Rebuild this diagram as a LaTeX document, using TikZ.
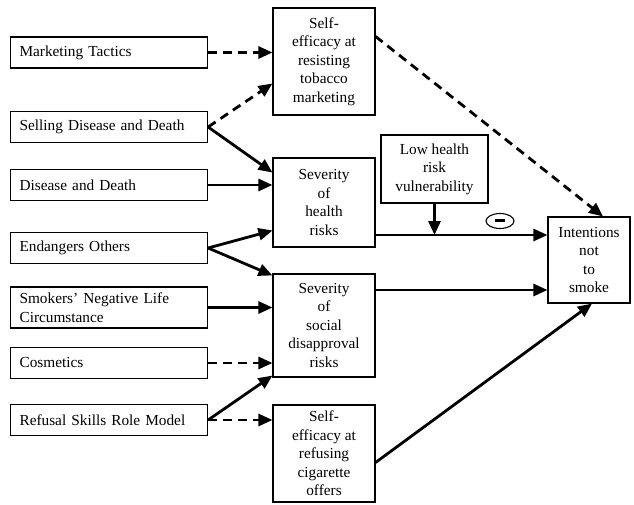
\documentclass[tikz,border=0pt]{standalone}
\usepackage{fontspec}
\setmainfont{Liberation Serif}
\usetikzlibrary{calc,arrows.meta,shapes.geometric}

\tikzset{
  box/.style={draw, line width=1.1pt, rectangle, inner sep=0pt},
  leftbox/.style={box, anchor=west, minimum width=197pt, minimum height=31pt,
    text width=179pt, align=left},
  midbox/.style={box, minimum width=102pt, align=center},
  link/.style={line width=2.8pt, -{Triangle[length=14pt,width=12pt]}},
  dlink/.style={link, dash pattern=on 9pt off 6pt},
}

\begin{document}
\begin{tikzpicture}[x=1pt, y=-1pt, font=\fontsize{15.3}{18.5}\selectfont]
  \path[use as bounding box, fill=white] (0,0) rectangle (634,504);

  \node[leftbox] (mkt) at (10,52.5) {Marketing Tactics};
  \node[leftbox] (sdd) at (10,127) {Selling Disease and Death};
  \node[leftbox] (dd) at (10,185) {Disease and Death};
  \node[leftbox] (eo) at (10,248) {Endangers Others};
  \node[leftbox, minimum height=41pt] (snl) at (10,307.5) {Smokers' Negative Life\\Circumstance};
  \node[leftbox] (cos) at (10,363) {Cosmetics};
  \node[leftbox] (rsr) at (10,420) {Refusal Skills Role Model};

  \node[midbox, minimum height=107pt] (ser) at (324,61.5) {Self-\\efficacy at\\resisting\\tobacco\\marketing};
  \node[midbox, minimum height=89pt] (sh) at (324,202.5) {Severity\\of\\health\\risks};
  \node[midbox, minimum height=103pt] (ss) at (324,325.5) {Severity\\of\\social\\disapproval\\risks};
  \node[midbox, minimum height=97pt] (sec) at (324,453.5) {Self-\\efficacy at\\refusing\\cigarette\\offers};

  \node[box, minimum width=107pt, minimum height=68pt, align=center] (low) at (434.5,169) {Low health\\risk\\vulnerability};
  \node[box, minimum width=82pt, minimum height=86pt, align=center] (int) at (589,260) {Intentions\\not\\to\\smoke};
  \node[draw, ellipse, line width=1.1pt, minimum width=28pt, minimum height=15pt, inner sep=0pt] (neg) at (500,221) {\rule[2pt]{10pt}{3pt}};

  \draw[dlink] (mkt.east) -- (mkt.east -| ser.west);
  \draw[dlink] (sdd.east) -- ($(ser.west)+(0,22)$);
  \draw[link] (sdd.east) -- ($(sh.west)+(0,-30)$);
  \draw[link] (dd.east) -- (dd.east -| sh.west);
  \draw[link] (eo.east) -- ($(sh.west)+(0,28)$);
  \draw[link] (eo.east) -- ($(ss.north west)+(0,2)$);
  \draw[link] (snl.east) -- (snl.east -| ss.west);
  \draw[dlink] (cos.east) -- (cos.east -| ss.west);
  \draw[link] (rsr.east) -- ($(ss.south west)+(0,-2)$);
  \draw[dlink] (rsr.east) -- (rsr.east -| sec.west);

  \coordinate (hs) at ($(sh.east)+(0,32.5)$);
  \coordinate (hj) at (low.south |- hs);
  \coordinate (ssr) at ($(ss.east)+(0,-35.5)$);
  \draw[dlink] ($(ser.north east)+(0,29)$) -- ($(int.north)+(14,0)$);
  \draw[link] (hs) -- (hs -| int.west);
  \draw[link] (low.south) -- (hj);
  \draw[link] (ssr) -- (ssr -| int.west);
  \draw[link] ($(sec.east)+(0,9)$) -- ($(int.south)+(3,0)$);
\end{tikzpicture}
\end{document}
